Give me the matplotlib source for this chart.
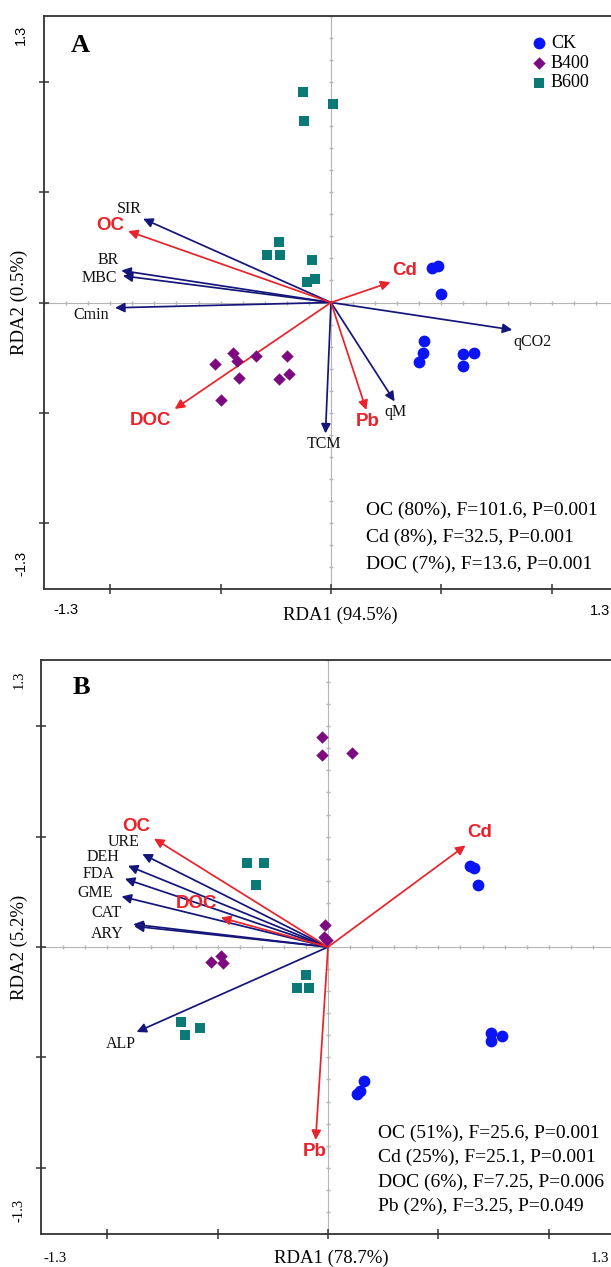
import numpy as np
import matplotlib
matplotlib.use("Agg")
import matplotlib.pyplot as plt

# --------------------------------------------------
# Data: sample scores (RDA1, RDA2)
# --------------------------------------------------
groups = ["CK", "B400", "B600"]

# Panel A
a_ck_x = [0.456, 0.486, 0.496, 0.419, 0.415, 0.398, 0.600, 0.648, 0.597]
a_ck_y = [0.156, 0.165, 0.038, -0.176, -0.230, -0.268, -0.233, -0.230, -0.286]
a_b400_x = [-0.443, -0.428, -0.341, -0.200, -0.524, -0.415, -0.235, -0.188, -0.496]
a_b400_y = [-0.230, -0.264, -0.242, -0.242, -0.279, -0.344, -0.347, -0.324, -0.444]
a_b600_x = [-0.127, 0.010, -0.124, -0.237, -0.290, -0.230, -0.087, -0.109, -0.073]
a_b600_y = [0.953, 0.900, 0.824, 0.274, 0.214, 0.214, 0.194, 0.091, 0.105]

# response variables (navy) and explanatory variables (red), panel A
a_resp = ["SIR", "BR", "MBC", "Cmin", "qCO2", "TCM", "qM"]
a_resp_x = [-0.851, -0.950, -0.943, -0.978, 0.821, -0.025, 0.288]
a_resp_y = [0.380, 0.145, 0.121, -0.024, -0.124, -0.594, -0.449]
a_env = ["OC", "Cd", "DOC", "Pb"]
a_env_x = [-0.919, 0.269, -0.708, 0.160]
a_env_y = [0.324, 0.092, -0.483, -0.488]
a_stats = ["OC (80%), F=101.6, P=0.001",
           "Cd (8%), F=32.5, P=0.001",
           "DOC (7%), F=13.6, P=0.001"]

# Panel B
b_ck_x = [0.644, 0.662, 0.678, 0.738, 0.738, 0.790, 0.161, 0.147, 0.133]
b_ck_y = [0.368, 0.358, 0.279, -0.389, -0.426, -0.405, -0.605, -0.653, -0.665]
b_b400_x = [-0.026, -0.028, 0.108, -0.015, -0.019, -0.003, -0.532, -0.485, -0.476]
b_b400_y = [0.951, 0.870, 0.879, 0.100, 0.047, 0.032, -0.067, -0.041, -0.074]
b_b600_x = [-0.365, -0.289, -0.326, -0.098, -0.142, -0.088, -0.666, -0.581, -0.648]
b_b600_y = [0.380, 0.380, 0.282, -0.129, -0.186, -0.186, -0.341, -0.368, -0.399]

b_resp = ["URE", "DEH", "FDA", "GME", "CAT", "ARY", "ALP"]
b_resp_x = [-0.841, -0.906, -0.920, -0.935, -0.882, -0.878, -0.867]
b_resp_y = [0.421, 0.368, 0.309, 0.229, 0.103, 0.094, -0.385]
b_env = ["OC", "DOC", "Cd", "Pb"]
b_env_x = [-0.788, -0.485, 0.623, -0.056]
b_env_y = [0.491, 0.133, 0.460, -0.874]
b_stats = ["OC (51%), F=25.6, P=0.001",
           "Cd (25%), F=25.1, P=0.001",
           "DOC (6%), F=7.25, P=0.006",
           "Pb (2%), F=3.25, P=0.049"]

# --------------------------------------------------
# Styles
# --------------------------------------------------
W, H = 611, 1267
SERIF = "Liberation Serif"
SANS = "Liberation Sans"
NAVY = "#15157a"
RED = "#e8232b"
GRP_STYLE = {
    "CK": dict(marker="o", color="#0a14f5", s=72),
    "B400": dict(marker="D", color="#7d0a80", s=40),
    "B600": dict(marker="s", color="#0b7a76", s=50),
}

# label offsets (pixels) from arrow tip
a_off = {"SIR": (-14, 10), "BR": (-13, 11), "MBC": (-23, -2), "Cmin": (-24, -7),
         "qCO2": (20, -12), "TCM": (-1, -11), "qM": (1, -11),
         "OC": (-18, 6), "Cd": (14, 12), "DOC": (-24, -12), "Pb": (1, -11)}
b_off = {"URE": (-19, 12), "DEH": (-25, 9), "FDA": (-26, 5), "GME": (-26, 3),
         "CAT": (-27, 11), "ARY": (-27, -8), "ALP": (-16, -12),
         "OC": (-18, 12), "DOC": (-24, 14), "Cd": (14, 13), "Pb": (-1, -12)}


def fx(px):
    return px / W


def fy(py):
    return 1 - py / H


def make_axes(fig, left, top, right, bottom):
    ax = fig.add_axes([fx(left), fy(bottom), (right - left) / W, (bottom - top) / H])
    ax.set_xlim(-1.3, 1.3)
    ax.set_ylim(-1.3, 1.3)
    ticks = [-1, -0.5, 0, 0.5, 1]
    ax.set_xticks(ticks)
    ax.set_yticks(ticks)
    ax.set_xticklabels([])
    ax.set_yticklabels([])
    ax.tick_params(direction="inout", length=7, width=1.1, color="#333333")
    for sp in ax.spines.values():
        sp.set_color("#333333")
        sp.set_linewidth(1.3)
    # dotted zero lines with small ticks
    ax.axhline(0, color="#b5b5b5", lw=0.8, zorder=0)
    ax.axvline(0, color="#b5b5b5", lw=0.8, zorder=0)
    mt = np.arange(-1.3, 1.31, 0.1)
    ax.plot(mt, np.zeros_like(mt), ls="none", marker="|", ms=3, color="#b5b5b5", zorder=0)
    ax.plot(np.zeros_like(mt), mt, ls="none", marker="_", ms=3, color="#b5b5b5", zorder=0)
    return ax


def draw_arrows(ax, names, xs, ys, offs, color, env=False):
    for n, x, y in zip(names, xs, ys):
        ax.annotate("", xy=(x, y), xytext=(0, 0),
                    arrowprops=dict(arrowstyle="-|>", color=color, lw=1.25,
                                    mutation_scale=14, shrinkA=0, shrinkB=0),
                    zorder=3)
        dx, dy = offs[n]
        if env:
            ax.annotate(n, xy=(x, y), xytext=(dx, dy), textcoords="offset pixels",
                        ha="center", va="center", color=color, fontsize=13.5,
                        fontweight="bold", family=SANS, zorder=4)
        else:
            ax.annotate(n, xy=(x, y), xytext=(dx, dy), textcoords="offset pixels",
                        ha="center", va="center", color="#111111", fontsize=11.5,
                        family=SERIF, zorder=4)


def draw_points(ax, data):
    handles = []
    for g, (xs, ys) in zip(groups, data):
        st = GRP_STYLE[g]
        h = ax.scatter(xs, ys, marker=st["marker"], c=st["color"], s=st["s"],
                       linewidths=0, zorder=5, label=g)
        handles.append(h)
    return handles


fig = plt.figure(figsize=(W / 100, H / 100), dpi=100)

# --------------------------------------------------
# Panel A
# --------------------------------------------------
axA = make_axes(fig, 44, 16, 618, 589)
hA = draw_points(axA, [(a_ck_x, a_ck_y), (a_b400_x, a_b400_y), (a_b600_x, a_b600_y)])
draw_arrows(axA, a_resp, a_resp_x, a_resp_y, a_off, NAVY)
draw_arrows(axA, a_env, a_env_x, a_env_y, a_off, RED, env=True)
fig.text(fx(80), fy(46), "A", family=SERIF, fontweight="bold", fontsize=19,
         ha="center", va="center")
for i, s in enumerate(a_stats):
    fig.text(fx(366), fy(510 + 27 * i), s, family=SERIF, fontsize=14,
             ha="left", va="center")
leg = fig.legend(handles=hA, labels=groups, loc="upper left",
                 bbox_to_anchor=(fx(522), fy(26)), frameon=False,
                 prop=dict(family=SERIF, size=13), handlelength=0.9,
                 handletextpad=0.2, labelspacing=0.15, borderpad=0)
fig.text(fx(340), fy(615), "RDA1 (94.5%)", family=SERIF, fontsize=13.5,
         ha="center", va="center")
fig.text(fx(19), fy(302), "RDA2 (0.5%)", family=SERIF, fontsize=13.5,
         ha="center", va="center", rotation=90)
fig.text(fx(66), fy(610), "-1.3", family=SANS, fontsize=10.5, ha="center", va="center")
fig.text(fx(600), fy(611), "1.3", family=SANS, fontsize=10.5, ha="center", va="center")
fig.text(fx(21), fy(35), "1.3", family=SANS, fontsize=10.5, ha="center", va="center",
         rotation=90)
fig.text(fx(21), fy(563), "-1.3", family=SANS, fontsize=10.5, ha="center", va="center",
         rotation=90)

# --------------------------------------------------
# Panel B
# --------------------------------------------------
axB = make_axes(fig, 41, 660, 615, 1234)
draw_points(axB, [(b_ck_x, b_ck_y), (b_b400_x, b_b400_y), (b_b600_x, b_b600_y)])
draw_arrows(axB, b_resp, b_resp_x, b_resp_y, b_off, NAVY)
draw_arrows(axB, b_env, b_env_x, b_env_y, b_off, RED, env=True)
fig.text(fx(81), fy(688), "B", family=SERIF, fontweight="bold", fontsize=19,
         ha="center", va="center")
for i, s in enumerate(b_stats):
    fig.text(fx(378), fy(1133 + 24.5 * i), s, family=SERIF, fontsize=14,
             ha="left", va="center")
fig.text(fx(331), fy(1258), "RDA1 (78.7%)", family=SERIF, fontsize=13.5,
         ha="center", va="center")
fig.text(fx(19), fy(947), "RDA2 (5.2%)", family=SERIF, fontsize=13.5,
         ha="center", va="center", rotation=90)
fig.text(fx(55), fy(1258), "-1.3", family=SERIF, fontsize=10.5, ha="center", va="center")
fig.text(fx(600), fy(1258), "1.3", family=SERIF, fontsize=10.5, ha="center", va="center")
fig.text(fx(19), fy(680), "1.3", family=SERIF, fontsize=10.5, ha="center", va="center",
         rotation=90)
fig.text(fx(19), fy(1210), "-1.3", family=SERIF, fontsize=10.5, ha="center", va="center",
         rotation=90)

fig.savefig("out.png", dpi=100)
